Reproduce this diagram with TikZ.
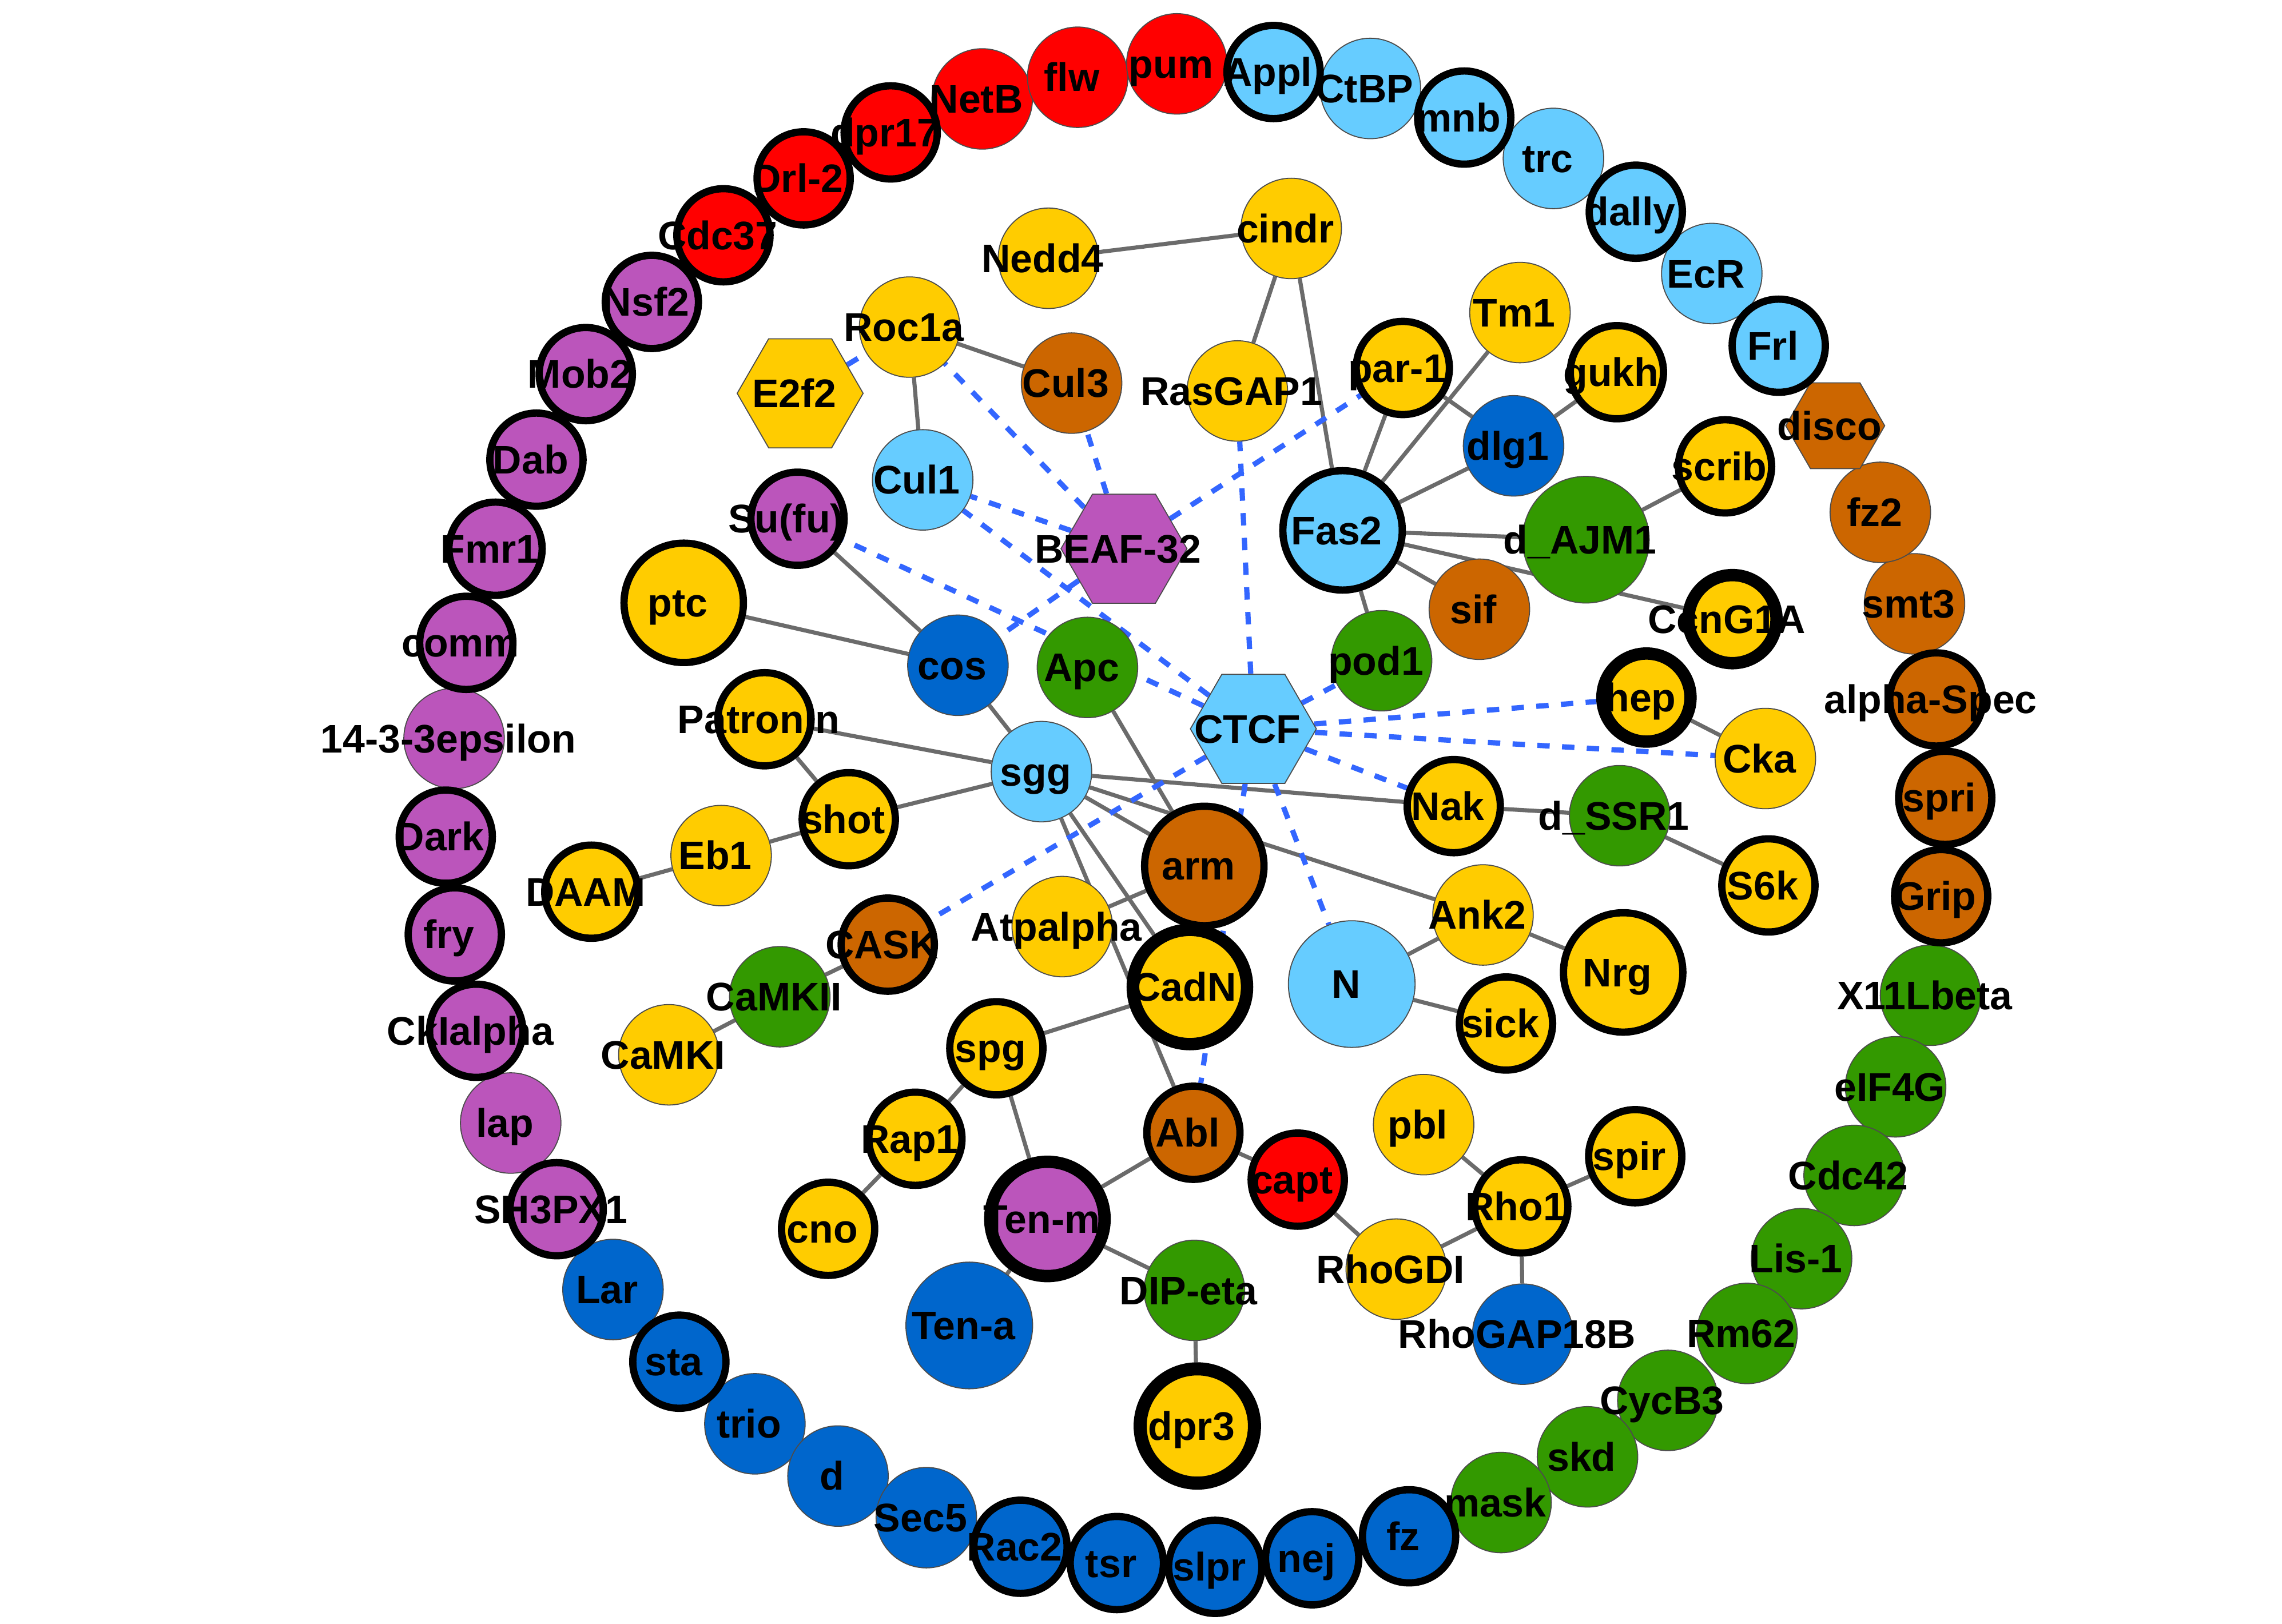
\documentclass[tikz,border=0pt]{standalone}
\usepackage{fontspec}
\setmainfont{Liberation Sans}
\usetikzlibrary{shapes.geometric}
\pgfdeclarelayer{bg}
\pgfdeclarelayer{edges}
\pgfsetlayers{bg,edges,main}
\definecolor{cY}{HTML}{FFCC00}
\definecolor{cO}{HTML}{CC6600}
\definecolor{cL}{HTML}{66CCFF}
\definecolor{cD}{HTML}{0066CC}
\definecolor{cG}{HTML}{339900}
\definecolor{cP}{HTML}{BB55BB}
\definecolor{cR}{HTML}{FF0000}
\definecolor{eg}{HTML}{6B6B6B}
\definecolor{eb}{HTML}{3366FF}
\tikzset{
 bnode/.style={circle, inner sep=0pt, draw=black!70, line width=0.2pt},
 sm/.style={bnode, minimum size=0.69cm},
 smb/.style={bnode, draw=black, minimum size=0.64cm, line width=0.05cm},
 smk/.style={bnode, draw=black, minimum size=0.605cm, line width=0.085cm},
 lg/.style={bnode, minimum size=0.87cm},
 lgb/.style={bnode, draw=black, minimum size=0.82cm, line width=0.05cm},
 lgk/.style={bnode, draw=black, minimum size=0.785cm, line width=0.085cm},
 hexa/.style={regular polygon, regular polygon sides=6, inner sep=0pt, minimum size=0.865cm, draw=black!70, line width=0.2pt},
 hexs/.style={hexa, minimum size=0.68cm},
 ed/.style={draw=eg, line width=0.028cm},
 dsh/.style={draw=eb, line width=0.036cm, dash pattern=on 0.085cm off 0.085cm},
 lbl/.style={font=\fontsize{7.8}{9}\selectfont\bfseries, inner sep=0pt, anchor=base}
}
\newcommand\lb[2]{\node[lbl] at ([xshift=-0.04cm,yshift=-0.097cm]#1.center) {#2};}
\begin{document}
\begin{tikzpicture}[x=0.01cm,y=-0.01cm]
\begin{pgfonlayer}{bg}
\fill[white] (0,0) rectangle (1568,1116);
\end{pgfonlayer}
\useasboundingbox (0,0) rectangle (1568,1116);
% ---------- unbordered nodes ----------
\node[sm,fill=cR] (NetB) at (674.9,68) {};
\node[sm,fill=cR] (flw) at (740.5,53.1) {};
\node[sm,fill=cR] (pum) at (808.6,43.9) {};
\node[sm,fill=cP] (eps) at (312,507.5) {};
\node[sm,fill=cP] (lap) at (350.9,771.8) {};
\node[sm,fill=cD] (Lar) at (421.2,886.2) {};
\node[sm,fill=cD] (trio) at (518.7,978.5) {};
\node[sm,fill=cD] (dd) at (575.8,1014.4) {};
\node[sm,fill=cD] (Sec5) at (636.5,1043) {};
\node[sm,fill=cG] (X11Lbeta) at (1326.5,684) {};
\node[sm,fill=cG] (eIF4G) at (1302.5,746.9) {};
\node[sm,fill=cG] (Cdc42) at (1274,807.8) {};
\node[sm,fill=cG] (Lis1) at (1237.9,865) {};
\node[sm,fill=cG] (Rm62) at (1200.4,916.4) {};
\node[sm,fill=cG] (CycB3) at (1146,962.4) {};
\node[sm,fill=cG] (skd) at (1090.8,1001.2) {};
\node[sm,fill=cG] (mask) at (1031.4,1032.6) {};
\node[sm,fill=cO] (smt3) at (1315.5,415) {};
\node[sm,fill=cO] (fz2) at (1292,352.1) {};
\node[sm,fill=cL] (EcR) at (1176.2,188) {};
\node[sm,fill=cL] (trc) at (1067.4,108.9) {};
\node[sm,fill=cL] (CtBP) at (941.6,60.8) {};
\node[hexs,fill=cO] (disco) at (1261,292.6) {};
%
\node[sm,fill=cY] (cindr) at (887.2,157) {};
\node[sm,fill=cY] (Nedd4) at (720.4,177.5) {};
\node[sm,fill=cY] (Roc1a) at (625,224.8) {};
\node[hexa,fill=cY] (E2f2) at (549.8,270.3) {};
\node[sm,fill=cO] (Cul3) at (736.3,263.3) {};
\node[sm,fill=cY] (RasGAP1) at (850.2,268.7) {};
\node[sm,fill=cY] (Tm1) at (1044.4,214.8) {};
\node[sm,fill=cD] (dlg1) at (1040,306.4) {};
\node[sm,fill=cL] (Cul1) at (634,329.8) {};
\node[hexa,fill=cP] (BEAF) at (772.3,377.1) {};
\node[lg,fill=cG] (dAJM1) at (1089.7,370.9) {};
\node[sm,fill=cO] (sif) at (1016.5,418.7) {};
\node[sm,fill=cD] (cos) at (658.2,457.2) {};
\node[sm,fill=cG] (Apc) at (747.2,458.7) {};
\node[sm,fill=cG] (pod1) at (949.3,454.1) {};
\node[hexa,fill=cL] (CTCF) at (861.2,500.9) {};
\node[sm,fill=cY] (Cka) at (1213,521.3) {};
\node[sm,fill=cL] (sgg) at (715.6,530.3) {};
\node[sm,fill=cG] (dSSR1) at (1112.9,560.6) {};
\node[sm,fill=cY] (Eb1) at (495.5,588) {};
\node[sm,fill=cY] (Atpalpha) at (729.9,636.8) {};
\node[sm,fill=cY] (Ank2) at (1019,628.8) {};
\node[sm,fill=cG] (CaMKII) at (535.8,685) {};
\node[lg,fill=cL] (N) at (928.8,676.3) {};
\node[sm,fill=cY] (CaMKI) at (459.6,724.9) {};
\node[sm,fill=cY] (pbl) at (978.2,772.9) {};
\node[sm,fill=cY] (RhoGDI) at (959.4,872.2) {};
\node[sm,fill=cG] (DIPeta) at (820.7,886.8) {};
\node[lg,fill=cD] (Tena) at (666,910.9) {};
\node[sm,fill=cD] (RhoGAP) at (1046.3,916.9) {};
% ---------- bordered nodes ----------
\node[smb,fill=cR] (dpr17) at (612,91) {};
\node[smb,fill=cR] (Drl2) at (552.2,122.6) {};
\node[smb,fill=cR] (Cdc37) at (497.1,161.7) {};
\node[smb,fill=cP] (Nsf2) at (447.9,207.5) {};
\node[smb,fill=cP] (Mob2) at (402.5,257.1) {};
\node[smb,fill=cP] (Dab) at (368.6,315.9) {};
\node[smb,fill=cP] (Fmr1) at (340.5,377.1) {};
\node[smb,fill=cP] (comm) at (320.4,441.8) {};
\node[smb,fill=cP] (Dark) at (306.3,575) {};
\node[smb,fill=cP] (fry) at (312.5,642.2) {};
\node[smb,fill=cP] (CkIalpha) at (327.2,708.4) {};
\node[smb,fill=cP] (SH3PX1) at (382.5,831) {};
\node[smb,fill=cD] (sta) at (466.8,935.8) {};
\node[smb,fill=cD] (Rac2) at (701.2,1063) {};
\node[smb,fill=cD] (tsr) at (767.4,1074.2) {};
\node[smb,fill=cD] (slpr) at (835,1076.8) {};
\node[smb,fill=cD] (nej) at (901.6,1070.9) {};
\node[smb,fill=cD] (fz) at (968.2,1055.8) {};
\node[smb,fill=cO] (Grip) at (1333.8,615.9) {};
\node[smb,fill=cO] (spri) at (1336.6,548.3) {};
\node[smb,fill=cO] (alphaSpec) at (1330.5,480.7) {};
\node[smb,fill=cL] (Frl) at (1222.2,237.6) {};
\node[smb,fill=cL] (dally) at (1124,145.5) {};
\node[smb,fill=cL] (mnb) at (1006.1,80.8) {};
\node[smb,fill=cL] (Appl) at (875.1,49.5) {};
%
\node[smb,fill=cY] (par1) at (963.9,252.9) {};
\node[smb,fill=cY] (gukh) at (1111,255.8) {};
\node[lgb,fill=cL] (Fas2) at (922.5,364.5) {};
\node[smb,fill=cY] (scrib) at (1185.3,320.5) {};
\node[smb,fill=cP] (Sufu) at (548,356.5) {};
\node[lgb,fill=cY] (ptc) at (469.8,414.3) {};
\node[smb,fill=cY] (Patronin) at (525.3,494.3) {};
\node[smb,fill=cY] (shot) at (583.2,563) {};
\node[smb,fill=cY] (Nak) at (998.9,554) {};
\node[smb,fill=cY] (S6k) at (1215.1,608.5) {};
\node[smb,fill=cY] (DAAM) at (406.3,612.8) {};
\node[lgb,fill=cO] (arm) at (827.5,595.1) {};
\node[lgb,fill=cY] (Nrg) at (1115.3,668.3) {};
\node[smb,fill=cO] (CASK) at (610,649.2) {};
\node[smb,fill=cY] (sick) at (1034.8,703.4) {};
\node[smb,fill=cY] (spg) at (684.6,720.4) {};
\node[smb,fill=cO] (Abl) at (820,778.5) {};
\node[smb,fill=cY] (spir) at (1123.6,794.6) {};
\node[smb,fill=cY] (Rap1) at (629,782.6) {};
\node[smb,fill=cR] (capt) at (891.7,810.7) {};
\node[smb,fill=cY] (Rho1) at (1045.3,829.1) {};
\node[smb,fill=cY] (cno) at (569,844.5) {};
% ---------- thick-bordered nodes ----------
\node[smk,fill=cY] (CcnG1A) at (1190.4,425.5) {};
\node[smk,fill=cY] (hep) at (1131.3,479.4) {};
\node[lgk,fill=cY] (CadN) at (817.6,678.3) {};
\node[lgk,fill=cP] (Tenm) at (719.7,837.7) {};
\node[lgk,fill=cY,line width=0.09cm] (dpr3) at (822.7,980) {};
% ---------- edges ----------
\begin{pgfonlayer}{edges}
\foreach \a/\b in {cindr/Nedd4, cindr/RasGAP1, cindr/Fas2, Roc1a/Cul3, Roc1a/Cul1,
  Fas2/par1, Fas2/Tm1, Fas2/dlg1, par1/dlg1, dlg1/gukh, Fas2/dAJM1, Fas2/CcnG1A,
  Fas2/sif, Fas2/pod1, dAJM1/scrib, Sufu/cos, ptc/cos, cos/sgg, Patronin/sgg,
  Patronin/shot, shot/sgg, Eb1/shot, DAAM/Eb1, sgg/Nak, Nak/dSSR1, dSSR1/S6k,
  sgg/Ank2, sgg/arm, sgg/CadN, sgg/Abl, Apc/arm, Atpalpha/arm, hep/Cka, Ank2/Nrg,
  N/Ank2, N/sick, CASK/CaMKII, CaMKII/CaMKI, spg/CadN, spg/Rap1, spg/Tenm,
  Rap1/cno, Abl/Tenm, Tenm/DIPeta, Tenm/Tena, DIPeta/dpr3, Abl/capt,
  capt/RhoGDI, RhoGDI/Rho1, pbl/Rho1, Rho1/spir, Rho1/RhoGAP}
  \draw[ed] (\a) -- (\b);
\foreach \a/\b in {E2f2/Roc1a, BEAF/Roc1a, BEAF/Cul3, BEAF/Cul1, BEAF/par1, BEAF/cos,
  CTCF/Cul1, CTCF/Sufu, CTCF/RasGAP1, CTCF/pod1, CTCF/hep, CTCF/Cka, CTCF/Nak,
  CTCF/N, CTCF/Abl, CTCF/CASK}
  \draw[dsh] (\a) -- (\b);
\end{pgfonlayer}
% ---------- labels ----------
\lb{pum}{pum}\lb{flw}{flw}\lb{NetB}{NetB}\lb{dpr17}{dpr17}\lb{Drl2}{Drl-2}
\lb{Cdc37}{Cdc37}\lb{Nsf2}{Nsf2}\lb{Mob2}{Mob2}\lb{Dab}{Dab}\lb{Fmr1}{Fmr1}
\lb{comm}{comm}\lb{eps}{14-3-3epsilon}\lb{Dark}{Dark}\lb{fry}{fry}
\lb{CkIalpha}{CkIalpha}\lb{lap}{lap}\lb{SH3PX1}{SH3PX1}\lb{Lar}{Lar}\lb{sta}{sta}
\lb{trio}{trio}\lb{dd}{d}\lb{Sec5}{Sec5}\lb{Rac2}{Rac2}\lb{tsr}{tsr}\lb{slpr}{slpr}
\lb{nej}{nej}\lb{fz}{fz}\lb{mask}{mask}\lb{skd}{skd}\lb{CycB3}{CycB3}\lb{Rm62}{Rm62}
\lb{Lis1}{Lis-1}\lb{Cdc42}{Cdc42}\lb{eIF4G}{eIF4G}\lb{X11Lbeta}{X11Lbeta}
\lb{Grip}{Grip}\lb{spri}{spri}\lb{alphaSpec}{alpha-Spec}\lb{smt3}{smt3}\lb{fz2}{fz2}
\lb{disco}{disco}\lb{Frl}{Frl}\lb{EcR}{EcR}\lb{dally}{dally}\lb{trc}{trc}\lb{mnb}{mnb}
\lb{CtBP}{CtBP}\lb{Appl}{Appl}
\lb{cindr}{cindr}\lb{Nedd4}{Nedd4}\lb{Roc1a}{Roc1a}\lb{E2f2}{E2f2}\lb{Cul3}{Cul3}
\lb{RasGAP1}{RasGAP1}\lb{par1}{par-1}\lb{Tm1}{Tm1}\lb{gukh}{gukh}\lb{dlg1}{dlg1}
\lb{Cul1}{Cul1}\lb{BEAF}{BEAF-32}\lb{Fas2}{Fas2}\lb{scrib}{scrib}\lb{dAJM1}{d\_AJM1}
\node[lbl] at ([xshift=-0.08cm,yshift=-0.097cm]Sufu.center) {Su(fu)};
\lb{sif}{sif}\lb{CcnG1A}{CcnG1A}\lb{ptc}{ptc}\lb{cos}{cos}\lb{Apc}{Apc}\lb{pod1}{pod1}
\lb{CTCF}{CTCF}\lb{hep}{hep}\lb{Cka}{Cka}\lb{Patronin}{Patronin}\lb{sgg}{sgg}
\lb{shot}{shot}\lb{Nak}{Nak}\lb{dSSR1}{d\_SSR1}\lb{S6k}{S6k}\lb{Eb1}{Eb1}
\lb{DAAM}{DAAM}\lb{arm}{arm}\lb{Atpalpha}{Atpalpha}\lb{Ank2}{Ank2}\lb{Nrg}{Nrg}
\lb{CASK}{CASK}\lb{CaMKII}{CaMKII}\lb{N}{N}\lb{CadN}{CadN}\lb{sick}{sick}
\lb{CaMKI}{CaMKI}\lb{spg}{spg}\lb{pbl}{pbl}\lb{Abl}{Abl}\lb{spir}{spir}\lb{Rap1}{Rap1}
\lb{capt}{capt}\lb{Rho1}{Rho1}\lb{cno}{cno}\lb{Tenm}{Ten-m}\lb{RhoGDI}{RhoGDI}
\lb{DIPeta}{DIP-eta}\lb{Tena}{Ten-a}\lb{RhoGAP}{RhoGAP18B}\lb{dpr3}{dpr3}
\end{tikzpicture}
\end{document}
